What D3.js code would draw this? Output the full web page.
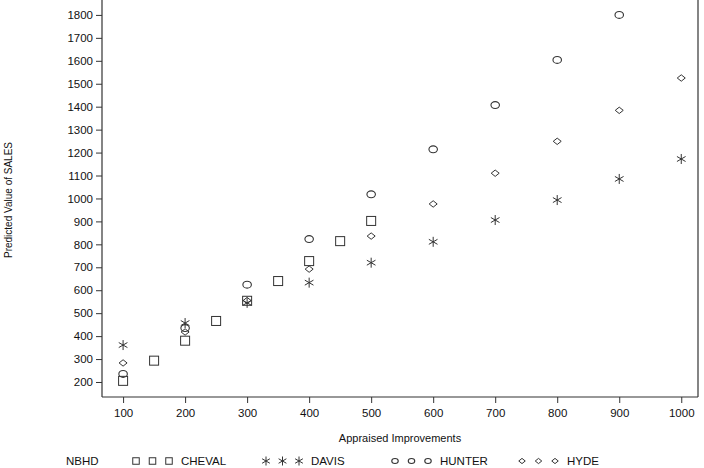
<!DOCTYPE html>
<html>
<head>
<meta charset="utf-8">
<script src="https://cdn.jsdelivr.net/npm/d3@7"></script>
<style>
  body { margin: 0; background: #fff; }
  svg { display: block; font-family: "Liberation Sans", Arial, sans-serif; }
</style>
</head>
<body>
<svg id="chart" width="704" height="468"></svg>
<script>
// data
var groups = ["CHEVAL", "DAVIS", "HUNTER", "HYDE"]
var chevalX = [100, 150, 200, 250, 300, 350, 400, 450, 500]
var chevalY = [205, 293, 380, 466, 554, 640, 727, 814, 902]
var davisX = [100, 200, 300, 400, 500, 600, 700, 800, 900, 1000]
var davisY = [361, 457, 545, 633, 720, 811, 906, 993, 1085, 1172]
var hunterX = [100, 200, 300, 400, 500, 600, 700, 800, 900]
var hunterY = [235, 435, 624, 823, 1018, 1214, 1407, 1604, 1800]
var hydeX = [100, 200, 300, 400, 500, 600, 700, 800, 900, 1000]
var hydeY = [283, 418, 555, 692, 836, 976, 1110, 1249, 1384, 1525]
var xTicks = [100, 200, 300, 400, 500, 600, 700, 800, 900, 1000]
var yTicks = [200, 300, 400, 500, 600, 700, 800, 900, 1000, 1100, 1200, 1300, 1400, 1500, 1600, 1700, 1800]

var svg = d3.select("#chart")
var ink = "#333"
var plotLeft = 102, plotRight = 698, plotTop = 0, plotBottom = 397

var xScale = d3.scaleLinear().domain([66, 1027]).range([plotLeft, plotRight])
var yScale = d3.scaleLinear().domain([134.6, 1865]).range([plotBottom, plotTop])

// marker shapes
function drawMarker(g, shape, cx, cy, s){
    if(shape == "CHEVAL"){
        g.append("rect").attr("x", cx - s/2).attr("y", cy - s/2)
          .attr("width", s).attr("height", s)
          .attr("fill", "none").attr("stroke", ink).attr("stroke-width", 1)
    }
    else if(shape == "DAVIS"){
        var r = s/2
        for(var a = 0; a < 3; a++){
            var ang = Math.PI/2 + a*Math.PI/3
            g.append("line")
              .attr("x1", cx + r*Math.cos(ang)).attr("y1", cy + r*Math.sin(ang))
              .attr("x2", cx - r*Math.cos(ang)).attr("y2", cy - r*Math.sin(ang))
              .attr("stroke", ink).attr("stroke-width", 1)
        }
    }
    else if(shape == "HUNTER"){
        g.append("ellipse").attr("cx", cx).attr("cy", cy)
          .attr("rx", s/2).attr("ry", s/2 - 0.8)
          .attr("fill", "none").attr("stroke", ink).attr("stroke-width", 1.1)
    }
    else {
        var h = s/2
        g.append("path")
          .attr("d", "M" + (cx - h) + "," + cy + "L" + cx + "," + (cy - h*0.8) +
                "L" + (cx + h) + "," + cy + "L" + cx + "," + (cy + h*0.8) + "Z")
          .attr("fill", "none").attr("stroke", ink).attr("stroke-width", 1)
    }
}

// frame
svg.append("line").attr("x1", plotLeft).attr("x2", plotLeft).attr("y1", plotTop).attr("y2", plotBottom)
  .attr("stroke", ink).attr("stroke-width", 1.2)
svg.append("line").attr("x1", plotLeft).attr("x2", plotRight).attr("y1", plotBottom).attr("y2", plotBottom)
  .attr("stroke", ink).attr("stroke-width", 1.2)
svg.append("line").attr("x1", plotRight).attr("x2", plotRight).attr("y1", plotTop).attr("y2", plotBottom)
  .attr("stroke", ink).attr("stroke-width", 1.2)

// axes
svg.append("g").attr("transform", "translate(0," + plotBottom + ")")
  .call(d3.axisBottom(xScale).tickValues(xTicks).tickFormat(d3.format("d")).tickSize(6).tickPadding(6))
svg.append("g").attr("transform", "translate(" + plotLeft + ",0)")
  .call(d3.axisLeft(yScale).tickValues(yTicks).tickFormat(d3.format("d")).tickSize(6).tickPadding(3))
svg.selectAll(".domain").remove()
svg.selectAll(".tick line").attr("stroke", ink)
svg.selectAll(".tick text").attr("fill", "#111").style("font-size", "11.5px")
  .style("font-family", "Liberation Sans, Arial, sans-serif")

// axis titles
svg.append("text").attr("x", 400).attr("y", 442).attr("text-anchor", "middle")
  .style("font-size", "11px").attr("fill", "#111").text("Appraised Improvements")
svg.append("text").attr("transform", "translate(12,200) rotate(-90)")
  .attr("text-anchor", "middle").style("font-size", "10px").attr("fill", "#111")
  .text("Predicted Value of SALES")

// points
var series = [
    {name: "CHEVAL", xs: chevalX, ys: chevalY, size: 9},
    {name: "DAVIS", xs: davisX, ys: davisY, size: 10},
    {name: "HUNTER", xs: hunterX, ys: hunterY, size: 8.5},
    {name: "HYDE", xs: hydeX, ys: hydeY, size: 8}
]
var pts = svg.append("g")
series.forEach(function(s){
    for(var i = 0; i < s.xs.length; i++){
        drawMarker(pts, s.name, xScale(s.xs[i]), yScale(s.ys[i]), s.size)
    }
})

// legend
var legY = 461
var legX = [136, 266, 395, 522]
svg.append("text").attr("x", 66).attr("y", legY + 4).style("font-size", "11.5px")
  .attr("fill", "#111").text("NBHD")
var leg = svg.append("g")
groups.forEach(function(name, i){
    for(var k = 0; k < 3; k++){
        drawMarker(leg, name, legX[i] + k*16.5, legY, name == "DAVIS" ? 9 : 6.5)
    }
    leg.append("text").attr("x", legX[i] + 45).attr("y", legY + 4)
      .style("font-size", "11.5px").attr("fill", "#111").text(name)
})
</script>
</body>
</html>
